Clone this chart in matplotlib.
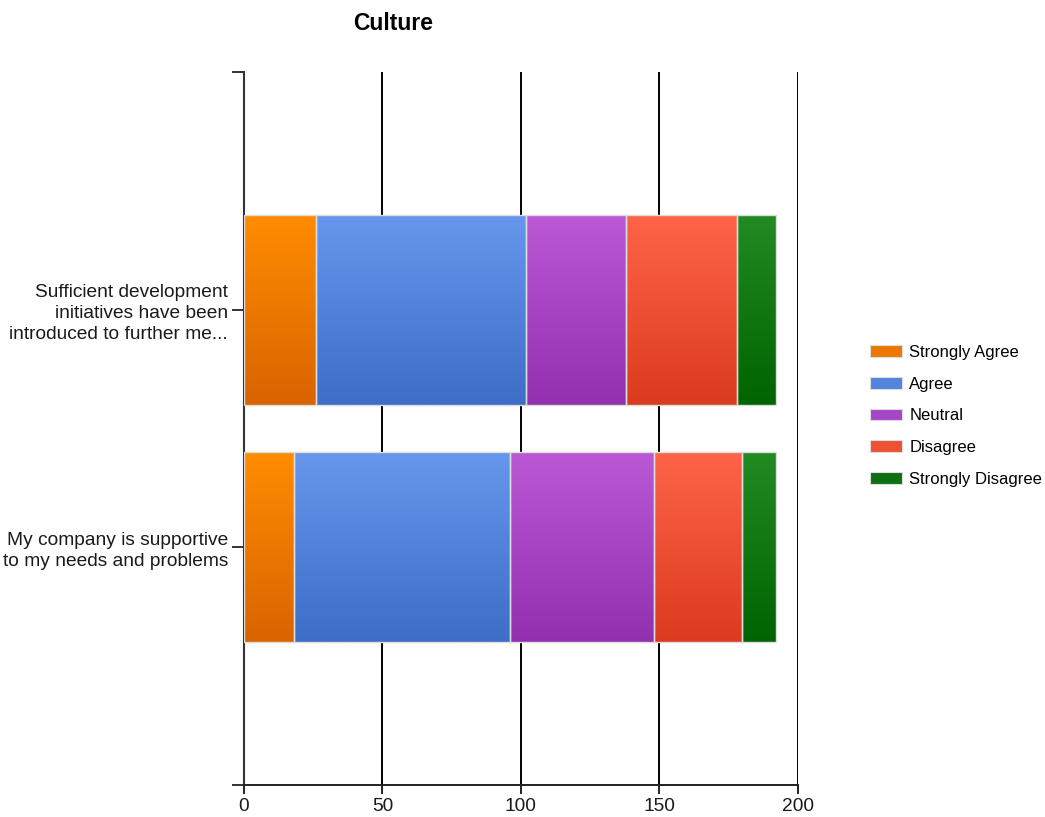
import matplotlib.pyplot as plt
import numpy as np
from matplotlib.colors import LinearSegmentedColormap
from matplotlib.patches import Patch

plt.rcParams['font.family'] = ['Liberation Sans', 'DejaVu Sans']

# data
questions = ['My company is supportive\nto my needs and problems',
             'Sufficient development\ninitiatives have been\nintroduced to further me...']
series = ['Strongly Agree', 'Agree', 'Neutral', 'Disagree', 'Strongly Disagree']
strongly_agree = [18, 26]
agree = [78, 76]
neutral = [52, 36]
disagree = [32, 40]
strongly_disagree = [12, 14]
values = [strongly_agree, agree, neutral, disagree, strongly_disagree]

# gradient colours (top, bottom) and legend colour
top_cols = ['#ff8c00', '#6697ec', '#bb58d6', '#ff6448', '#228b22']
bot_cols = ['#d96400', '#3d6ec8', '#9230b0', '#db3b1f', '#006400']
leg_cols = ['#ec7800', '#5283de', '#a546c6', '#ee5034', '#0e7010']

fig = plt.figure(figsize=(10.45, 8.17), dpi=100)
ax = fig.add_axes([0.2335, 0.0392, 0.530, 0.8727])

ypos = np.arange(1, len(questions) + 1)
left = np.zeros(len(questions))
grad = np.linspace(0, 1, 100).reshape(-1, 1)
for i, vals in enumerate(values):
    bars = ax.barh(ypos, vals, left=left, height=0.8, color='none',
                   edgecolor='#dcdcdc', linewidth=1, zorder=4)
    cmap = LinearSegmentedColormap.from_list('g%d' % i, [top_cols[i], bot_cols[i]])
    for b in bars:
        x0, y0 = b.get_x(), b.get_y()
        im = ax.imshow(grad, extent=[x0, x0 + b.get_width(), y0, y0 + b.get_height()],
                       aspect='auto', cmap=cmap, zorder=3, interpolation='bilinear')
        im.set_clip_path(b)
    left = left + np.array(vals)

ax.set_xlim(0, 200)
ax.set_ylim(0, 3)
ax.set_xticks([0, 50, 100, 150, 200])
ax.set_yticks([0, 1, 2, 3])
ax.set_yticklabels([''] + questions + [''], linespacing=1.3)
ax.grid(axis='x', color='black', linewidth=1.4, zorder=1)
ax.set_axisbelow(True)
for s in ['top', 'right']:
    ax.spines[s].set_visible(False)
ax.spines['left'].set_color('#333333')
ax.spines['left'].set_linewidth(1.5)
ax.spines['bottom'].set_color('#222222')
ax.spines['bottom'].set_linewidth(1.4)
ax.tick_params(axis='y', length=8.6, width=1.4, color='#333333', labelsize=13.8,
               pad=3, labelcolor='#1a1a1a')
ax.tick_params(axis='x', length=6.5, width=1.4, color='#222222', labelsize=13.8,
               pad=3, labelcolor='#1a1a1a')

fig.text(393 / 1045, 1 - 24 / 817, 'Culture', ha='center', va='center',
         fontsize=16.5, fontweight='bold')

handles = [Patch(facecolor=c, edgecolor='#dcdcdc', linewidth=0.8) for c in leg_cols]
fig.legend(handles, series, loc='upper left', bbox_to_anchor=(870 / 1045, 1 - 345 / 817),
           frameon=False, fontsize=12, handlelength=1.9, handleheight=0.7,
           handletextpad=0.45, labelspacing=1.0, borderpad=0, borderaxespad=0)

fig.savefig('out.png', dpi=100, facecolor='white')
